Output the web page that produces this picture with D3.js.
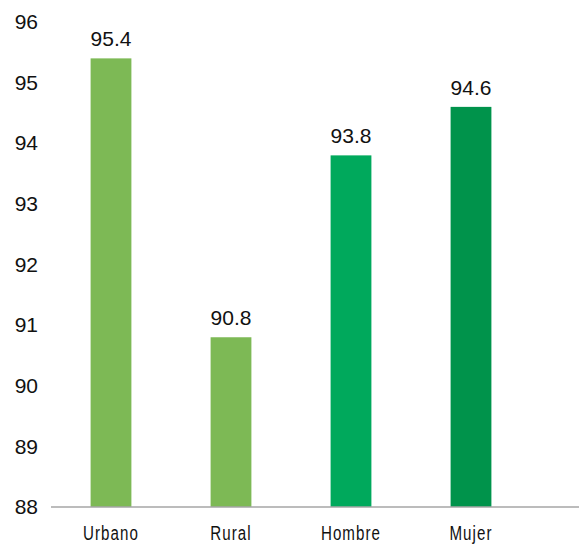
<!DOCTYPE html>
<html>
<head>
<meta charset="utf-8">
<script src="https://cdn.jsdelivr.net/npm/d3@7"></script>
<style>
  body { margin: 0; background: #fff; }
  text { font-family: "Liberation Sans", Arial, sans-serif; }
</style>
</head>
<body>
<div id="chart"></div>
<script>
var width = 579;
var height = 546;

var categories = ['Urbano', 'Rural', 'Hombre', 'Mujer'];
var values = [95.4, 90.8, 93.8, 94.6];
var colors = ['#7db955', '#7db955', '#00a95c', '#00934b'];
var yTicks = [88, 89, 90, 91, 92, 93, 94, 95, 96];

var svg = d3.select('#chart').append('svg')
  .attr('width', width).attr('height', height);

var x = d3.scaleBand()
  .domain(categories)
  .range([51, 531])
  .paddingInner(0.66)
  .paddingOuter(0.33);

var y = d3.scaleLinear()
  .domain([88, 96])
  .range([507, 22]);

// y axis labels
var yAxis = svg.append('g')
  .attr('transform', 'translate(38,0)')
  .call(d3.axisLeft(y).tickValues(yTicks).tickSize(0).tickPadding(0));
yAxis.select('.domain').remove();
yAxis.selectAll('text')
  .attr('font-size', 21)
  .attr('fill', '#111')
  .style('font-family', '"Liberation Sans", Arial, sans-serif');

// bars
svg.selectAll('rect.bar')
  .data(values)
  .enter()
  .append('rect')
  .attr('class', 'bar')
  .attr('x', function(d, i){ return x(categories[i]); })
  .attr('y', function(d){ return y(d); })
  .attr('width', x.bandwidth())
  .attr('height', function(d){ return y(88) - y(d); })
  .attr('fill', function(d, i){ return colors[i]; });

// value labels
svg.selectAll('text.val')
  .data(values)
  .enter()
  .append('text')
  .attr('class', 'val')
  .attr('x', function(d, i){ return x(categories[i]) + x.bandwidth() / 2; })
  .attr('y', function(d){ return y(d) - 12; })
  .attr('text-anchor', 'middle')
  .attr('font-size', 21)
  .attr('fill', '#111')
  .text(function(d){ return d.toFixed(1); });

// x axis line
svg.append('line')
  .attr('x1', 51).attr('x2', width)
  .attr('y1', y(88)).attr('y2', y(88))
  .attr('stroke', '#a6a6a6')
  .attr('stroke-width', 1.5);

// category labels (condensed look)
svg.selectAll('g.cat')
  .data(categories)
  .enter()
  .append('g')
  .attr('class', 'cat')
  .attr('transform', function(d){ return 'translate(' + (x(d) + x.bandwidth() / 2) + ',540) scale(0.72,1)'; })
  .append('text')
  .attr('text-anchor', 'middle')
  .attr('font-size', 21)
  .attr('letter-spacing', 1.5)
  .attr('fill', '#111')
  .text(function(d){ return d; });
</script>
</body>
</html>
